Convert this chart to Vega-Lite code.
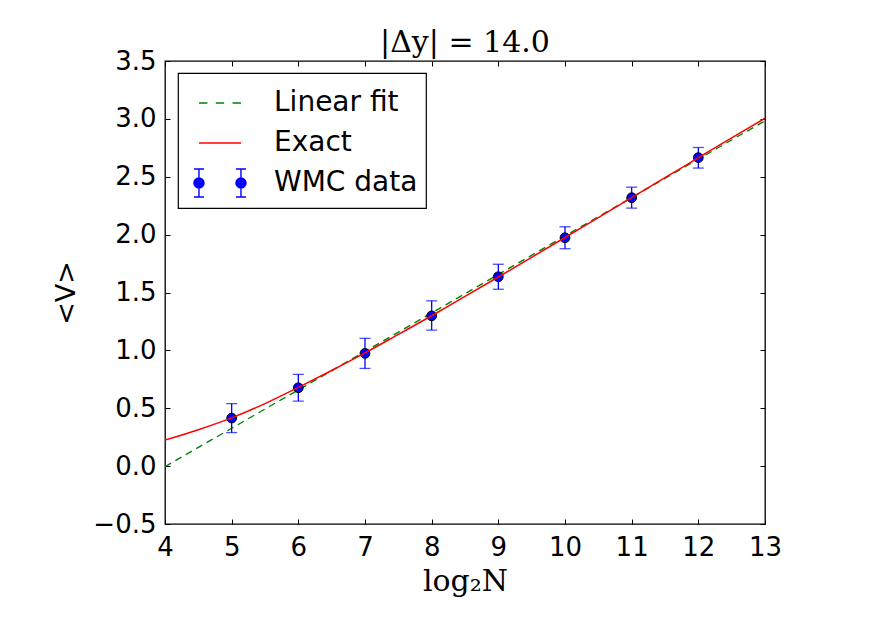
{
  "$schema": "https://vega.github.io/schema/vega-lite/v6.json",
  "width": 600,
  "height": 463,
  "autosize": {"type": "none"},
  "padding": {"left": 165, "top": 61, "right": 107, "bottom": 93},
  "background": "white",
  "title": {
    "text": "|Δy| = 14.0",
    "font": "DejaVu Serif",
    "fontSize": 30,
    "fontWeight": "normal",
    "color": "black",
    "anchor": "middle",
    "baseline": "alphabetic",
    "offset": -34
  },
  "config": {
    "view": {"stroke": "black", "strokeWidth": 1.3},
    "axis": {
      "grid": false,
      "domain": false,
      "tickColor": "black",
      "tickWidth": 1,
      "tickSize": -5,
      "labelFont": "DejaVu Sans",
      "labelFontSize": 26,
      "labelColor": "black",
      "titleColor": "black",
      "titleFontWeight": "normal"
    }
  },
  "datasets": {
    "wmc": [
      {"logN": 5, "V": 0.415, "Vlo": 0.29, "Vhi": 0.54},
      {"logN": 6, "V": 0.677, "Vlo": 0.562, "Vhi": 0.793},
      {"logN": 7, "V": 0.974, "Vlo": 0.844, "Vhi": 1.104},
      {"logN": 8, "V": 1.298, "Vlo": 1.175, "Vhi": 1.428},
      {"logN": 9, "V": 1.636, "Vlo": 1.528, "Vhi": 1.744},
      {"logN": 10, "V": 1.973, "Vlo": 1.878, "Vhi": 2.068},
      {"logN": 11, "V": 2.319, "Vlo": 2.229, "Vhi": 2.41},
      {"logN": 12, "V": 2.665, "Vlo": 2.575, "Vhi": 2.753}
    ],
    "fit": [
      {"logN": 4, "V": -0.005, "series": "Linear fit"},
      {"logN": 13, "V": 2.984, "series": "Linear fit"}
    ],
    "exact": [
      {"logN": 4, "V": 0.225, "series": "Exact"},
      {"logN": 4.5, "V": 0.315, "series": "Exact"},
      {"logN": 5, "V": 0.417, "series": "Exact"},
      {"logN": 5.5, "V": 0.54, "series": "Exact"},
      {"logN": 6, "V": 0.68, "series": "Exact"},
      {"logN": 6.5, "V": 0.826, "series": "Exact"},
      {"logN": 7, "V": 0.978, "series": "Exact"},
      {"logN": 7.5, "V": 1.138, "series": "Exact"},
      {"logN": 8, "V": 1.299, "series": "Exact"},
      {"logN": 8.5, "V": 1.466, "series": "Exact"},
      {"logN": 9, "V": 1.634, "series": "Exact"},
      {"logN": 9.5, "V": 1.804, "series": "Exact"},
      {"logN": 10, "V": 1.975, "series": "Exact"},
      {"logN": 10.5, "V": 2.147, "series": "Exact"},
      {"logN": 11, "V": 2.319, "series": "Exact"},
      {"logN": 11.5, "V": 2.492, "series": "Exact"},
      {"logN": 12, "V": 2.664, "series": "Exact"},
      {"logN": 12.5, "V": 2.836, "series": "Exact"},
      {"logN": 13, "V": 3.006, "series": "Exact"}
    ]
  },
  "layer": [
    {
      "data": {"name": "fit"},
      "mark": {"type": "line", "color": "#008000", "strokeWidth": 1.4, "strokeDash": [7, 5], "clip": true},
      "encoding": {
        "x": {
          "field": "logN", "type": "quantitative",
          "scale": {"domain": [4, 13], "nice": false, "zero": false},
          "axis": {
            "orient": "bottom",
            "values": [4, 5, 6, 7, 8, 9, 10, 11, 12, 13],
            "format": "d",
            "labelPadding": 15,
            "labelFlush": false,
            "title": "log₂N",
            "titleFont": "DejaVu Serif",
            "titleFontSize": 30,
            "titlePadding": 6
          }
        },
        "y": {
          "field": "V", "type": "quantitative",
          "scale": {"domain": [-0.5, 3.5], "nice": false, "zero": false},
          "axis": {
            "orient": "left",
            "values": [-0.5, 0, 0.5, 1, 1.5, 2, 2.5, 3, 3.5],
            "format": ".1f",
            "labelPadding": 14,
            "labelFlush": false,
            "title": "<V>",
            "titleFont": "DejaVu Sans",
            "titleFontSize": 27,
            "titlePadding": 12
          }
        }
      }
    },
    {
      "data": {"name": "wmc"},
      "mark": {"type": "errorbar", "ticks": {"size": 11}, "color": "#0000ff", "thickness": 1.3},
      "encoding": {
        "x": {"field": "logN", "type": "quantitative", "axis": null},
        "y": {"field": "Vlo", "type": "quantitative", "axis": null},
        "y2": {"field": "Vhi"}
      }
    },
    {
      "data": {"name": "wmc"},
      "mark": {"type": "point", "filled": true, "fill": "#0000ff", "stroke": "black", "strokeWidth": 1, "opacity": 1, "size": 95},
      "encoding": {
        "x": {"field": "logN", "type": "quantitative", "axis": null},
        "y": {"field": "V", "type": "quantitative", "axis": null}
      }
    },
    {
      "data": {"name": "exact"},
      "mark": {"type": "line", "strokeWidth": 1.5, "interpolate": "monotone", "clip": true},
      "encoding": {
        "x": {"field": "logN", "type": "quantitative", "axis": null},
        "y": {"field": "V", "type": "quantitative", "axis": null},
        "color": {
          "field": "series", "type": "nominal",
          "scale": {"domain": ["Linear fit", "Exact", "WMC data"], "range": ["#008000", "#ff0000", "#0000ff"]},
          "legend": {
            "title": null,
            "orient": "none",
            "legendX": 13,
            "legendY": 12,
            "fillColor": "white",
            "strokeColor": "black",
            "cornerRadius": 0,
            "padding": 8,
            "rowPadding": 4,
            "symbolSize": 1764,
            "symbolType": "stroke",
            "labelFont": "DejaVu Sans",
            "labelFontSize": 28,
            "labelColor": "black",
            "labelOffset": 44,
            "labelLimit": 400,
            "encode": {
              "legend": {"update": {"strokeWidth": {"value": 1.2}}},
              "symbols": {
                "update": {
                  "shape": {"signal": "datum.value === 'WMC data' ? 'M-0.43,-0.67V0.67M-0.67,-0.67H-0.19M-0.67,0.67H-0.19M1.57,-0.67V0.67M1.33,-0.67H1.81M1.33,0.67H1.81M-0.19,0A0.24,0.24,0,1,1,-0.67,0A0.24,0.24,0,1,1,-0.19,0ZM1.81,0A0.24,0.24,0,1,1,1.33,0A0.24,0.24,0,1,1,1.81,0Z' : datum.value === 'Exact' ? 'M-0.43,0H1.57' : 'M-0.43,0H-0.03M0.37,0H0.77M1.17,0H1.57'"},
                  "stroke": {"signal": "datum.value === 'WMC data' ? '#0000ff' : datum.value === 'Exact' ? '#ff0000' : '#008000'"},
                  "fill": {"signal": "datum.value === 'WMC data' ? '#0000ff' : 'transparent'"},
                  "strokeWidth": {"value": 1.4},
                  "size": {"value": 1764},
                  "opacity": {"value": 1}
                }
              }
            }
          }
        }
      }
    },
    {
      "data": {"name": "fit"},
      "mark": {"type": "line", "opacity": 0},
      "encoding": {
        "x": {
          "field": "logN", "type": "quantitative",
          "axis": {"orient": "top", "values": [4, 5, 6, 7, 8, 9, 10, 11, 12, 13], "labels": false, "title": null}
        },
        "y": {
          "field": "V", "type": "quantitative",
          "axis": {"orient": "right", "values": [-0.5, 0, 0.5, 1, 1.5, 2, 2.5, 3, 3.5], "labels": false, "title": null}
        }
      }
    }
  ],
  "resolve": {"axis": {"x": "independent", "y": "independent"}}
}
